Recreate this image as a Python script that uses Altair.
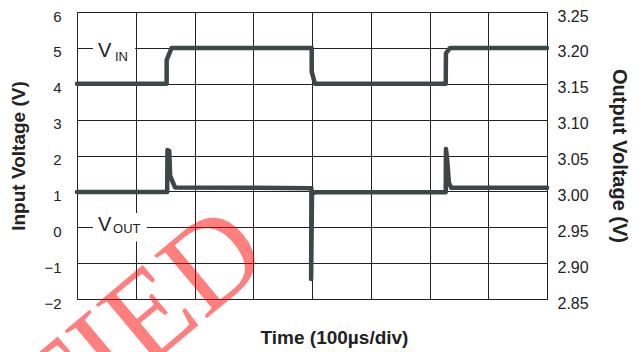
import altair as alt
import pandas as pd

# ---- data (time in divisions of 100 µs) ----
vin_t = [0.0, 1.526, 1.526, 1.61, 3.995, 3.995, 4.05, 6.276, 6.28, 6.35, 8.0]
vin_v = [4.0, 4.0, 4.66, 5.0, 5.0, 4.34, 4.0, 4.0, 4.85, 5.0, 5.0]

vout_t = [0.0, 1.535, 1.54, 1.57, 1.585, 1.668, 3.99, 3.985, 4.0, 4.05, 6.276, 6.28, 6.30, 6.33, 6.37, 8.0]
vout_v = [2.999, 2.999, 3.0575, 3.0565, 3.022, 3.0055, 3.0045, 2.878, 2.997, 2.9987, 2.9987, 3.059, 3.045, 3.012, 3.005, 3.005]

left_ticks = [-2, -1, 0, 1, 2, 3, 4, 5, 6]
right_ticks = [2.85, 2.90, 2.95, 3.00, 3.05, 3.10, 3.15, 3.20, 3.25]
x_grid = [0, 1, 2, 3, 4, 5, 6, 7, 8]

label_text = ["V", "IN", "V", "OUT"]
label_t = [0.357, 0.647, 0.357, 0.613]
label_v = [4.746, 4.634, -0.105, -0.16]
label_size = [20, 13, 20, 13]

box_t = [0.272, 0.272]
box_t2 = [0.99, 1.19]
box_v = [4.6, -0.4]
box_v2 = [5.2, 0.4]

wm_text = ["CERTIFIED"]
wm_t = [3.34]
wm_v = [-0.98]

DARK = "#3d4747"
INK = "#222222"

vin_df = pd.DataFrame({"t": vin_t, "v": vin_v, "i": range(len(vin_t))})
vout_df = pd.DataFrame({"t": vout_t, "v": vout_v, "i": range(len(vout_t))})
lab_df = pd.DataFrame({"t": label_t, "v": label_v, "s": label_size, "txt": label_text})
box_df = pd.DataFrame({"t": box_t, "t2": box_t2, "v": box_v, "v2": box_v2})
wm_df = pd.DataFrame({"t": wm_t, "v": wm_v, "txt": wm_text})

xscale = alt.Scale(domain=[0, 8], nice=False, zero=False)
lscale = alt.Scale(domain=[-2, 6], nice=False, zero=False)
rscale = alt.Scale(domain=[2.85, 3.25], nice=False, zero=False)

x_axis = alt.Axis(
    values=x_grid, labels=False, ticks=False, domain=False, grid=True,
    gridColor=INK, gridWidth=1,
    title="Time (100µs/div)", titleFont="Liberation Sans", titleFontSize=19,
    titleFontWeight="bold", titleColor=INK, titleX=257, titleY=44,
    titleAlign="center", titleBaseline="alphabetic",
)
left_axis = alt.Axis(
    values=left_ticks, grid=True, gridColor=INK, gridWidth=1, ticks=False,
    domain=False, labelPadding=16, labelFontSize=15, labelOffset=4,
    labelFont="Liberation Sans", labelColor=INK,
    title="Input Voltage (V)", titleFont="Liberation Sans", titleFontSize=19,
    titleFontWeight="bold", titleColor=INK, titleX=-58.5, titleY=143.5,
    titleAngle=270, titleAlign="center", titleBaseline="middle",
)
right_axis = alt.Axis(
    orient="right", values=right_ticks, format=".2f", grid=False, ticks=False,
    domain=False, labelPadding=10, labelFontSize=16, labelOffset=4,
    labelFont="Liberation Sans", labelColor=INK,
    title="Output Voltage (V)", titleFont="Liberation Sans", titleFontSize=20,
    titleFontWeight="bold", titleColor=INK, titleX=71, titleY=143.5,
    titleAngle=90, titleAlign="center", titleBaseline="middle",
)

X = alt.X("t:Q", scale=xscale, axis=x_axis)
YL = alt.Y("v:Q", scale=lscale, axis=left_axis)

vin = alt.Chart(vin_df).mark_line(
    color=DARK, strokeWidth=4.5, strokeCap="round", strokeJoin="round"
).encode(x=X, y=YL, order="i:Q")

boxes = alt.Chart(box_df).mark_rect(color="white").encode(
    x=X, x2="t2:Q", y=YL, y2="v2:Q",
)

labels = alt.Chart(lab_df).mark_text(
    align="left", baseline="alphabetic", font="Liberation Sans", color=INK
).encode(
    x=X, y=YL, text="txt:N", size=alt.Size("s:Q", scale=None),
)

watermark = alt.Chart(wm_df).mark_text(
    align="right", baseline="alphabetic", angle=320, font="Liberation Serif",
    fontSize=125, color="red", opacity=0.5,
).encode(x=X, y=YL, text="txt:N")

left = alt.layer(vin, boxes, labels, watermark)

vout = alt.Chart(vout_df).mark_line(
    color=DARK, strokeWidth=4.5, strokeCap="round", strokeJoin="round"
).encode(
    x=X,
    y=alt.Y("v:Q", scale=rscale, axis=right_axis),
    order="i:Q",
)

chart = alt.layer(left, vout).resolve_scale(y="independent").properties(
    width=470, height=287,
    padding={"left": 69, "top": 4, "right": 88, "bottom": 53},
    autosize=alt.AutoSizeParams(type="none"),
).configure_view(stroke=INK, strokeWidth=1)

chart.save("out.html", embed_options={"renderer": "svg", "actions": False})
